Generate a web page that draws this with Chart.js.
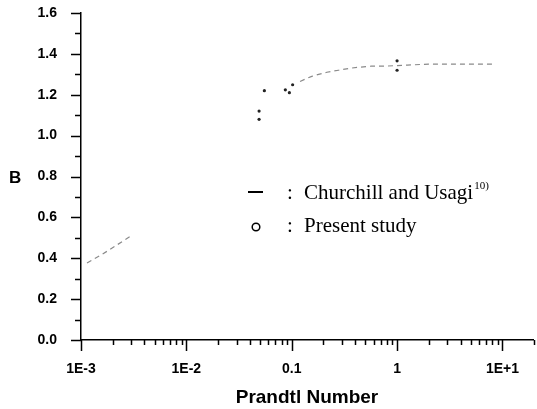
<!DOCTYPE html>
<html>
<head>
<meta charset="utf-8">
<script src="https://cdn.jsdelivr.net/npm/chart.js@4"></script>
<style>
  body { margin: 0; background: #fff; }
  #wrap { width: 537px; height: 409px; position: relative; }
</style>
</head>
<body>
<div id="wrap"><canvas id="chart"></canvas></div>
<script>
// Churchill and Usagi correlation (faint dashed curve), null = part not visible
var churchillPr = [0.00114, 0.0016, 0.003, 0.01, 0.12, 0.139, 0.155, 0.18, 0.216, 0.278, 0.36, 0.44, 0.57, 0.76, 1.25, 2.0, 3.5, 8.6];
var churchillB  = [0.377, 0.42, 0.51, null, 1.265, 1.28, 1.29, 1.30, 1.31, 1.32, 1.33, 1.335, 1.34, 1.34, 1.345, 1.35, 1.35, 1.35];

// Present study
var presentPr = [0.049, 0.049, 0.055, 0.087, 0.095, 0.102, 1.0, 1.0];
var presentB  = [1.12, 1.08, 1.22, 1.224, 1.21, 1.249, 1.366, 1.32];

// ticks
var xMajor = [0.001, 0.01, 0.1, 1, 10];
var xTickLabels = ['1E-3', '1E-2', '0.1', '1', '1E+1'];
var yTickLabels = ['0.0', '0.2', '0.4', '0.6', '0.8', '1.0', '1.2', '1.4', '1.6'];

function pairs(xs, ys) {
  return xs.map(function (x, i) { return { x: x, y: ys[i] }; });
}

// all log ticks 1..9 per decade
var xAllTicks = [];
xMajor.forEach(function (d) {
  for (var m = 1; m <= 9; m++) {
    if (d * m <= 20) xAllTicks.push(d * m);
  }
});

function isMajor(v) {
  for (var i = 0; i < xMajor.length; i++) {
    if (Math.abs(v - xMajor[i]) / xMajor[i] < 1e-6) return i;
  }
  return -1;
}

// tick marks, axis title B and the legend text
var decorations = {
  id: 'decorations',
  afterDraw: function (chart) {
    var ctx = chart.ctx;
    var xs = chart.scales.x, ys = chart.scales.y;
    var a = chart.chartArea;
    ctx.save();
    ctx.strokeStyle = '#000';
    ctx.lineWidth = 1.5;
    ctx.beginPath();
    xAllTicks.forEach(function (v) {
      var px = Math.round(xs.getPixelForValue(v)) + 0.5;
      var len = isMajor(v) >= 0 ? 11 : 5;
      ctx.moveTo(px, a.bottom);
      ctx.lineTo(px, a.bottom + len);
    });
    for (var k = 0; k <= 16; k++) {
      var py = Math.round(ys.getPixelForValue(k / 10)) + 0.5;
      var l = (k % 2 === 0) ? 10 : 6;
      ctx.moveTo(a.left, py);
      ctx.lineTo(a.left - l, py);
    }
    ctx.stroke();

    // axis title B
    ctx.fillStyle = '#000';
    ctx.font = 'bold 17px "Liberation Sans", Arial, sans-serif';
    ctx.textAlign = 'left';
    ctx.textBaseline = 'middle';
    ctx.fillText('B', 9, ys.getPixelForValue(0.8) + 2);

    // legend
    ctx.font = '21px "Liberation Serif", "Times New Roman", serif';
    ctx.textBaseline = 'alphabetic';
    ctx.lineWidth = 2;
    ctx.beginPath();
    ctx.moveTo(248, 192);
    ctx.lineTo(263, 192);
    ctx.stroke();
    ctx.fillText(':', 287, 199);
    ctx.fillText('Churchill and Usagi', 304, 199);
    var w = ctx.measureText('Churchill and Usagi').width;
    ctx.font = '11px "Liberation Serif", "Times New Roman", serif';
    ctx.fillText('10)', 304 + w + 1, 189);

    ctx.lineWidth = 1.5;
    ctx.beginPath();
    ctx.arc(256, 227, 3.8, 0, Math.PI * 2);
    ctx.stroke();
    ctx.font = '21px "Liberation Serif", "Times New Roman", serif';
    ctx.fillText(':', 287, 232);
    ctx.fillText('Present study', 304, 232);
    ctx.restore();
  }
};

var config = {
  type: 'scatter',
  data: {
    datasets: [
      {
        label: 'Churchill and Usagi',
        data: pairs(churchillPr, churchillB),
        showLine: true,
        spanGaps: false,
        borderColor: '#8a8a8a',
        borderWidth: 1.2,
        borderDash: [5, 4],
        pointRadius: 0
      },
      {
        label: 'Present study',
        data: pairs(presentPr, presentB),
        showLine: false,
        pointRadius: 1.6,
        pointBackgroundColor: '#222',
        pointBorderColor: '#222',
        pointBorderWidth: 0
      }
    ]
  },
  options: {
    responsive: true,
    maintainAspectRatio: false,
    animation: false,
    layout: { padding: { top: 13, right: 0, left: 0, bottom: 0 } },
    plugins: {
      legend: { display: false },
      tooltip: { enabled: false }
    },
    scales: {
      x: {
        type: 'logarithmic',
        min: 0.001,
        max: 19.5,
        afterBuildTicks: function (scale) {
          scale.ticks = xAllTicks.map(function (v) { return { value: v }; });
        },
        afterFit: function (scale) {
          scale.height = 69;
          scale.paddingLeft = 0;
          scale.paddingRight = 0;
        },
        ticks: {
          autoSkip: false,
          maxRotation: 0,
          padding: 21,
          color: '#000',
          font: { family: '"Liberation Sans", Arial, sans-serif', size: 14, weight: 'bold' },
          callback: function (v) {
            var i = isMajor(v);
            return i >= 0 ? xTickLabels[i] : '';
          }
        },
        grid: { display: true, drawOnChartArea: false, drawTicks: false },
        border: { display: true, color: '#000', width: 1.5 },
        title: {
          display: true,
          text: 'Prandtl Number',
          color: '#000',
          padding: { top: 0, bottom: 0 },
          font: { family: '"Liberation Sans", Arial, sans-serif', size: 19, weight: 'bold' }
        }
      },
      y: {
        min: 0,
        max: 1.6,
        afterBuildTicks: function (scale) {
          scale.ticks = yTickLabels.map(function (t) { return { value: parseFloat(t) }; });
        },
        afterFit: function (scale) {
          scale.width = 81;
          scale.paddingTop = 0;
          scale.paddingBottom = 0;
        },
        ticks: {
          padding: 24,
          color: '#000',
          font: { family: '"Liberation Sans", Arial, sans-serif', size: 14, weight: 'bold' },
          callback: function (v) { return v.toFixed(1); }
        },
        grid: { display: true, drawOnChartArea: false, drawTicks: false },
        border: { display: true, color: '#000', width: 1.5 }
      }
    }
  },
  plugins: [decorations]
};

var chart = new Chart(document.getElementById('chart'), config);
</script>
</body>
</html>
